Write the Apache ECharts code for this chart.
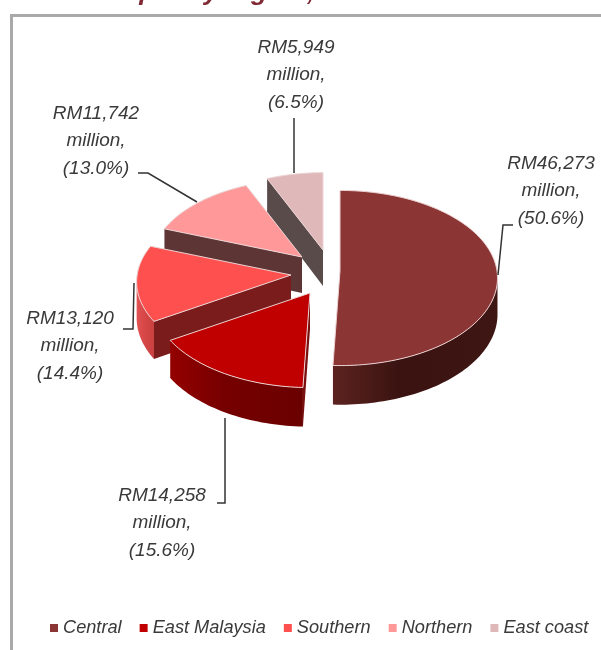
<!DOCTYPE html>
<html>
<head>
<meta charset="utf-8">
<style>html,body{margin:0;padding:0;background:#fff}#chart{width:601px;height:650px}</style>
<script src="https://cdn.jsdelivr.net/npm/echarts@6/dist/echarts.min.js"></script>
</head>
<body>
<div id="chart"></div>
<script>
// data
const regions = ['Central', 'East Malaysia', 'Southern', 'Northern', 'East coast']
const outputMillion = [46273, 14258, 13120, 11742, 5949]
const shareLabels = ['50.6%', '15.6%', '14.4%', '13.0%', '6.5%']

// look of each slice
const topColors = ['#8b3535', '#c00000', '#ff5050', '#ff9999', '#dfb9b9']
const cutColors = ['#3c1513', '#7a0f0f', '#7a1c1c', '#5e3535', '#5a4b4b']
const wallStops = [
  ['#5c2320', '#3a1310', '#3e1613'],
  ['#940000', '#760000', '#6a0000'],
  ['#e25252', '#d84848', '#c84040'],
  ['#7a4a4a', '#7a4a4a', '#7a4a4a'],
  ['#6a5555', '#6a5555', '#6a5555']
]
// apex of each pulled-out slice, radius factor, label box and leader line
const apex = [[340, 271], [310, 293], [291, 275], [302, 257], [323, 250]]
const radiusFactor = [1, 1, 0.98, 0.96, 0.96]
const labelAt = [[551, 191], [162, 523], [70, 346], [96, 141], [296, 75]]
const leaders = [
  [[513, 225], [503, 225], [498, 275]],
  [[217, 503], [225, 503], [225, 418]],
  [[123, 329], [133, 329], [134, 283]],
  [[138, 173], [148, 173], [197, 202]],
  [[294, 118], [294, 173]]
]

const RX = 157, RY = 87, DEPTH = 36, PERSP = 0.08
const total = outputMillion.reduce((a, b) => a + b, 0)

function project(c, theta, r) {
  const z = -Math.cos(theta)
  const s = 1 / (1 - PERSP * z)
  return [c[0] + RX * r * Math.sin(theta) * s, c[1] + RY * r * z * s, s]
}

function sliceShapes(i) {
  const before = outputMillion.slice(0, i).reduce((a, b) => a + b, 0)
  const a0 = before / total * Math.PI * 2
  const a1 = (before + outputMillion[i]) / total * Math.PI * 2
  const c = apex[i]
  const arc = []
  const steps = Math.max(12, Math.ceil((a1 - a0) * 40))
  for (let k = 0; k <= steps; k++) arc.push(project(c, a0 + (a1 - a0) * k / steps, radiusFactor[i]))
  const drop = p => [p[0], p[1] + DEPTH * p[2]]
  const flat = p => [p[0], p[1]]
  const children = []
  // going leftwards on screen along a clockwise outline means the side faces the viewer
  const first = arc[0]
  const front = arc.filter((p, k) => (k > 0 && arc[k - 1][0] > p[0]) || (k < arc.length - 1 && p[0] > arc[k + 1][0]))
  if (front.length > 1) {
    children.push({
      type: 'polygon',
      shape: { points: front.map(flat).concat(front.slice().reverse().map(drop)) },
      style: {
        fill: { type: 'linear', x: 1, y: 0, x2: 0, y2: 0, colorStops: [
          { offset: 0, color: wallStops[i][2] },
          { offset: 0.6, color: wallStops[i][1] },
          { offset: 1, color: wallStops[i][0] }
        ] }
      }
    })
  }
  const centre = [c[0], c[1], 1]
  if (first[0] < centre[0] - 0.5) {
    children.push({
      type: 'polygon',
      shape: { points: [flat(centre), flat(first), drop(first), drop(centre)] },
      style: { fill: cutColors[i] }
    })
  }
  children.push({
    type: 'polygon',
    shape: { points: [flat(centre)].concat(arc.map(flat)) },
    style: { fill: topColors[i], stroke: '#ecd2d2', lineWidth: 1 }
  })
  return children
}

const series = regions.map((name, i) => ({
  name,
  type: 'custom',
  coordinateSystem: 'none',
  silent: true,
  z: 10 - i,
  itemStyle: { color: topColors[i] },
  data: [[outputMillion[i]]],
  renderItem: () => ({ type: 'group', children: sliceShapes(i) })
}))

// labels and leaders sit above every slice
series.push({
  type: 'custom',
  name: 'labels',
  coordinateSystem: 'none',
  silent: true,
  z: 20,
  data: outputMillion.map((v, i) => [v, i]),
  renderItem: (params, api) => {
    const i = api.value(1)
    return {
      type: 'group',
      children: [
        {
          type: 'polyline',
          shape: { points: leaders[i] },
          style: { fill: null, stroke: '#333', lineWidth: 1.5 }
        },
        {
          type: 'text',
          x: labelAt[i][0],
          y: labelAt[i][1],
          style: {
            text: 'RM' + api.value(0).toLocaleString('en-US') + '\nmillion,\n(' + shareLabels[i] + ')',
            font: 'italic 19px "Liberation Sans"',
            fill: '#3a3a3a',
            align: 'center',
            verticalAlign: 'middle',
            lineHeight: 27.5
          }
        }
      ]
    }
  }
})

const chart = echarts.init(document.getElementById('chart'), null, { renderer: 'canvas' })
chart.setOption({
  animation: false,
  backgroundColor: '#fff',
  title: {
    text: 'Gross output by region, 2010',
    left: 14,
    top: -20.5,
    padding: 0,
    textStyle: { color: '#7f2a35', fontSize: 26.5, fontStyle: 'italic', fontWeight: 'bold', fontFamily: 'Liberation Sans' }
  },
  legend: {
    data: regions,
    left: 50,
    top: 619,
    padding: 0,
    icon: 'rect',
    itemWidth: 8,
    itemHeight: 8,
    itemGap: 18,
    selectedMode: false,
    textStyle: { color: '#3a3a3a', fontSize: 18.2, fontStyle: 'italic', fontFamily: 'Liberation Sans', padding: [0, 0, 0, 0] }
  },
  graphic: [{
    type: 'polyline',
    silent: true,
    shape: { points: [[11.5, 650], [11.5, 15.5], [601, 15.5]] },
    style: { fill: null, stroke: '#a9a9a9', lineWidth: 3 }
  }],
  series
})
</script>
</body>
</html>
